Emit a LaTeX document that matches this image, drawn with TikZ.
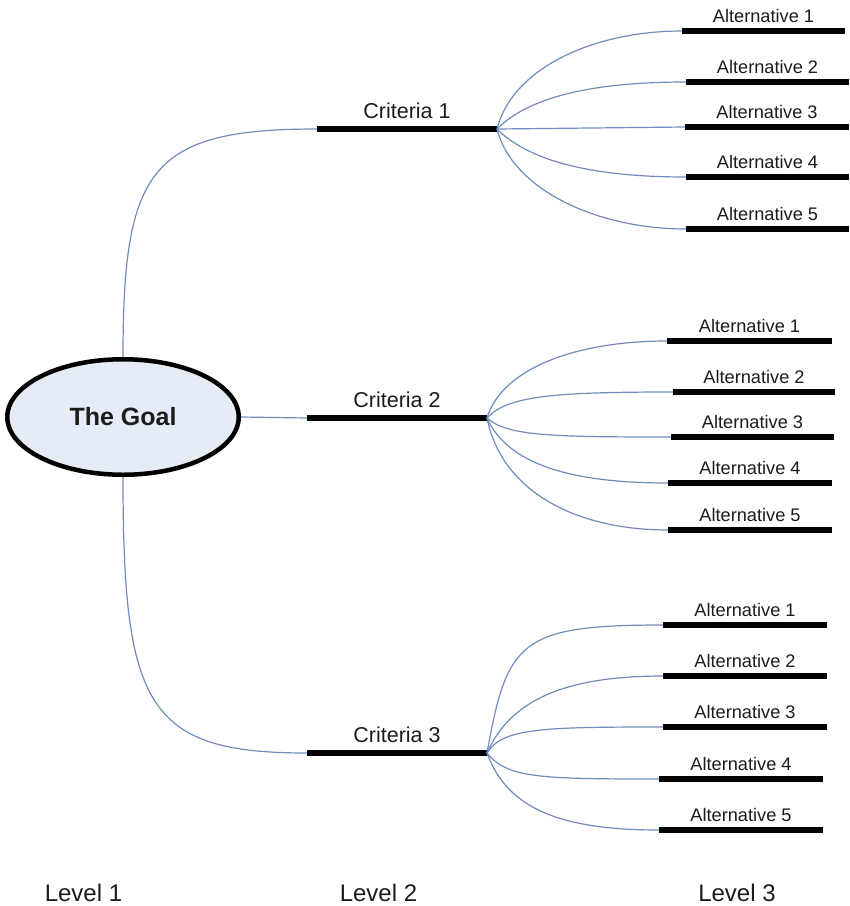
\documentclass[tikz,border=0pt]{standalone}
\usepackage{fontspec}
\setmainfont{Liberation Sans}
\usetikzlibrary{shapes.geometric}
\definecolor{linkblue}{RGB}{112,140,188}
\definecolor{goalfill}{RGB}{230,236,246}
\definecolor{inktext}{RGB}{28,28,28}
\begin{document}
\begin{tikzpicture}[x=1pt,y=-1pt,
  bar/.style={rectangle,fill=black,inner sep=0pt,outer sep=0pt,minimum height=5.5pt},
  critbar/.style={bar,minimum width=180pt},
  altbar/.style={bar,minimum width=164pt},
  crittext/.style={inner sep=0pt,anchor=base,text=inktext,font=\fontsize{21.5}{24}\selectfont,yshift=10.5pt},
  alttext/.style={inner sep=0pt,anchor=base,text=inktext,font=\fontsize{18.2}{21}\selectfont,yshift=8.5pt},
  leveltext/.style={inner sep=0pt,anchor=base,text=inktext,font=\fontsize{24}{28}\selectfont},
  goal/.style={ellipse,draw=black,line width=4.5pt,fill=goalfill,minimum width=231.5pt,minimum height=115.5pt,
    inner sep=0pt,font=\bfseries\fontsize{25}{28}\selectfont,text=inktext},
  link/.style={draw=linkblue,line width=1.2pt}]
\useasboundingbox (0,0) rectangle (850,906);

% level 1: the goal
\node[goal] (goal) at (123,417) {The Goal};

% level 2: criteria
\node[critbar] (c1) at (407,129) {};
\node[critbar] (c2) at (397,418) {};
\node[critbar] (c3) at (397,753) {};
\node[crittext] (tc1) at (c1.center) {Criteria 1};
\node[crittext] (tc2) at (c2.center) {Criteria 2};
\node[crittext] (tc3) at (c3.center) {Criteria 3};

% level 3: alternatives under criteria 1
\node[altbar,minimum width=163pt] (a11) at (763.5,31) {};
\node[altbar,minimum width=163pt] (a12) at (767.5,82) {};
\node[altbar] (a13) at (767,127) {};
\node[altbar,minimum width=163pt] (a14) at (767.5,177) {};
\node[altbar,minimum width=163pt] (a15) at (767.5,229) {};
% alternatives under criteria 2
\node[altbar,minimum width=165pt] (a21) at (749.5,341) {};
\node[altbar,minimum width=162pt] (a22) at (754,392) {};
\node[altbar,minimum width=163pt] (a23) at (752.5,437) {};
\node[altbar] (a24) at (750,483) {};
\node[altbar] (a25) at (750,530) {};
% alternatives under criteria 3
\node[altbar] (a31) at (745,625) {};
\node[altbar] (a32) at (745,676) {};
\node[altbar] (a33) at (745,727) {};
\node[altbar] (a34) at (741,779) {};
\node[altbar] (a35) at (741,830) {};

\foreach \g in {1,2,3}{
  \foreach \k in {1,...,5}{
    \node[alttext] (t\g\k) at (a\g\k.center) {Alternative \k};
  }
}

% goal to criteria
\draw[link] (goal.north) .. controls +(0,-188) and +(-167,0) .. (c1.west);
\draw[link] (goal.east) -- (c2.west);
\draw[link] (goal.south) .. controls +(0,230) and +(-160,0) .. (c3.west);

% criteria 1 to its alternatives
\draw[link] (c1.east) .. controls +(15,-60) and +(-90,0) .. (a11.west);
\draw[link] (c1.east) .. controls +(30,-30) and +(-100,0) .. (a12.west);
\draw[link] (c1.east) -- (a13.west);
\draw[link] (c1.east) .. controls +(30,30) and +(-100,0) .. (a14.west);
\draw[link] (c1.east) .. controls +(15,60) and +(-90,0) .. (a15.west);

% criteria 2 to its alternatives
\draw[link] (c2.east) .. controls +(15,-50) and +(-90,0) .. (a21.west);
\draw[link] (c2.east) .. controls +(20,-22) and +(-120,0) .. (a22.west);
\draw[link] (c2.east) .. controls +(20,18) and +(-120,0) .. (a23.west);
\draw[link] (c2.east) .. controls +(20,45) and +(-100,0) .. (a24.west);
\draw[link] (c2.east) .. controls +(15,75) and +(-90,0) .. (a25.west);

% criteria 3 to its alternatives
\draw[link] (c3.east) .. controls +(20,-112) and +(-143,0) .. (a31.west);
\draw[link] (c3.east) .. controls +(23,-52) and +(-100,0) .. (a32.west);
\draw[link] (c3.east) .. controls +(15,-25) and +(-120,0) .. (a33.west);
\draw[link] (c3.east) .. controls +(20,25) and +(-120,0) .. (a34.west);
\draw[link] (c3.east) .. controls +(20,55) and +(-100,0) .. (a35.west);

% level captions
\node[leveltext] (l1) at (83.5,901) {Level 1};
\node[leveltext] (l2) at (378.5,901) {Level 2};
\node[leveltext] (l3) at (737,901) {Level 3};
\end{tikzpicture}
\end{document}
